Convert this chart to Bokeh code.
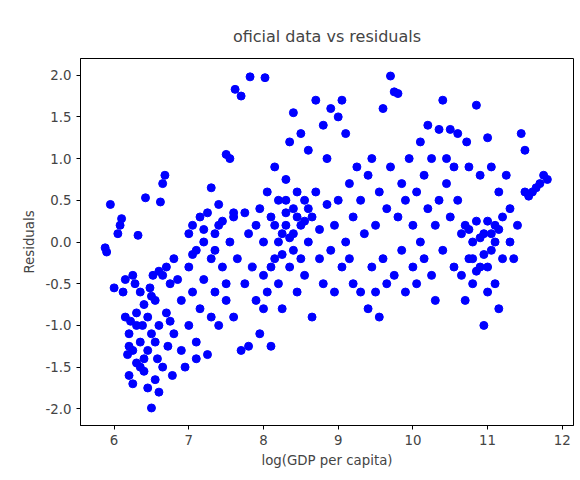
from bokeh.plotting import figure
from bokeh.models import ColumnDataSource, FixedTicker, Range1d, PrintfTickFormatter
from bokeh.embed import file_html
from bokeh.resources import INLINE

# points (log GDP per capita, residual)
gdp_pts = [
    # poorest group
    (5.88,-0.07),(5.9,-0.12),(5.95,0.45),(6.0,-0.55),(6.05,0.1),(6.08,0.2),(6.1,0.28),(6.12,-0.6),
    (6.15,-0.45),(6.15,-0.9),(6.18,-1.35),(6.2,-1.1),(6.2,-1.6),(6.22,-0.95),(6.25,-1.7),(6.25,-1.3),
    (6.28,-0.5),(6.3,-0.85),(6.3,-1.45),(6.32,0.08),(6.35,-1.2),(6.35,-0.6),(6.38,-1.0),(6.4,-0.75),
    (6.4,-1.55),(6.42,0.53),(6.45,-0.9),(6.45,-1.3),(6.48,-0.55),(6.5,-1.99),(6.5,-1.1),(6.52,-0.4),
    (6.55,-1.65),(6.55,-0.7),(6.58,-1.4),(6.6,-0.35),(6.6,-1.0),(6.62,0.48),(6.65,0.7),(6.65,-1.5),
    (6.68,0.8),(6.7,-0.3),(6.7,-0.85),(6.72,-1.25),(6.75,-0.5),(6.78,-1.6),(6.8,-0.2),(6.8,-1.1),
    (6.85,-0.45),(6.9,-1.3),(6.9,-0.7),(6.25,-0.4),(6.35,-1.5),(6.45,-1.75),(6.6,-1.8),(6.75,-0.95),
    (6.3,-1.0),(6.5,-0.65),(6.55,-1.2),(6.65,-0.4),(6.4,-1.4),(6.2,-1.25),
    # 7 - 7.8
    (6.95,-1.5),(7.0,-1.0),(7.0,-0.3),(7.0,0.1),(7.05,-0.6),(7.05,0.2),(7.1,-1.2),(7.1,-0.1),
    (7.15,0.3),(7.15,-0.8),(7.2,0.0),(7.2,-0.45),(7.25,-1.35),(7.25,0.35),(7.3,0.65),(7.3,-0.2),
    (7.35,0.1),(7.35,-0.6),(7.4,0.45),(7.4,-1.0),(7.45,-0.3),(7.45,0.25),(7.5,1.05),(7.5,-0.5),
    (7.55,0.0),(7.55,1.0),(7.6,-0.9),(7.6,0.3),(7.62,1.83),(7.65,-0.2),(7.7,1.75),(7.7,-1.3),
    (7.75,0.35),(7.75,-0.5),(7.8,-1.25),(7.8,0.1),(7.82,1.98),(7.1,-1.4),(7.3,-0.9),(7.5,-0.7),
    (7.2,0.15),(7.4,0.2),(7.6,0.35),(7.35,-0.1),(7.05,-0.15),
    # 7.8 - 9
    (7.85,-0.3),(7.9,0.2),(7.9,-0.7),(7.95,0.4),(7.95,-1.1),(8.0,-0.4),(8.0,0.0),(8.02,1.97),
    (8.05,0.6),(8.05,-0.6),(8.1,0.3),(8.1,-1.25),(8.15,-0.2),(8.15,0.9),(8.2,0.5),(8.2,-0.5),
    (8.25,0.1),(8.25,-0.8),(8.3,0.75),(8.3,0.2),(8.35,-0.3),(8.35,1.2),(8.4,1.55),(8.4,0.4),
    (8.4,-0.1),(8.45,0.6),(8.45,-0.6),(8.5,1.3),(8.5,0.2),(8.55,-0.4),(8.55,0.5),(8.6,1.1),
    (8.6,0.0),(8.65,0.3),(8.65,-0.9),(8.7,1.7),(8.7,0.6),(8.75,-0.2),(8.75,0.15),(8.8,1.4),
    (8.8,-0.5),(8.85,0.45),(8.85,1.0),(8.9,-0.1),(8.9,1.6),(8.95,0.2),(8.95,-0.6),(9.0,1.5),
    (9.0,0.5),(8.3,0.35),(8.4,0.1),(8.5,-0.2),(8.2,0.0),(8.6,0.4),(8.1,-0.3),(8.0,-0.8),
    (8.3,0.5),(8.35,0.05),(8.45,0.3),(8.25,-0.15),(8.55,0.25),(8.15,0.2),
    # 9 - 10
    (9.05,-0.3),(9.05,1.7),(9.1,0.0),(9.1,1.3),(9.15,-0.2),(9.15,0.7),(9.2,0.3),(9.2,-0.5),
    (9.25,0.9),(9.3,-0.6),(9.3,0.5),(9.35,0.1),(9.4,-0.8),(9.4,0.8),(9.45,-0.3),(9.45,1.0),
    (9.5,0.2),(9.5,-0.6),(9.55,0.6),(9.55,-0.9),(9.6,-0.2),(9.6,1.6),(9.65,0.4),(9.65,-0.5),
    (9.7,1.99),(9.7,0.9),(9.75,-0.4),(9.75,1.8),(9.8,0.3),(9.8,1.78),(9.85,-0.1),(9.85,0.7),
    (9.9,-0.6),(9.9,0.5),(9.95,1.0),(10.0,-0.3),(10.0,0.2),
    # 10 - 10.6
    (10.05,0.6),(10.05,-0.5),(10.1,1.2),(10.1,0.0),(10.15,0.8),(10.15,-0.2),(10.2,1.4),(10.2,0.4),
    (10.25,-0.4),(10.25,1.0),(10.3,0.2),(10.3,-0.7),(10.35,1.35),(10.35,0.5),(10.4,-0.1),(10.4,1.7),
    (10.45,0.7),(10.45,1.0),(10.5,0.3),(10.5,1.35),(10.55,-0.3),(10.55,0.9),(10.6,1.3),(10.6,0.5),
    # 10.6 - 11.2
    (10.65,-0.4),(10.65,0.1),(10.7,-0.7),(10.7,0.2),(10.72,1.2),(10.75,-0.2),(10.75,0.9),(10.8,0.0),
    (10.8,-0.5),(10.85,1.64),(10.85,0.25),(10.9,-0.3),(10.9,0.8),(10.95,-1.0),(10.95,0.1),(11.0,-0.6),
    (11.0,0.25),(11.0,1.25),(11.05,-0.1),(11.05,0.9),(11.1,-0.5),(11.1,0.2),(11.15,-0.8),(11.15,0.6),
    (11.2,-0.2),(11.2,0.3),(10.85,-0.35),(10.95,-0.15),(11.05,0.1),(10.75,0.15),
    (10.9,0.05),(11.0,-0.3),(11.1,0.0),(10.8,-0.2),(11.15,0.15),
    # richest
    (11.25,0.8),(11.3,0.0),(11.3,0.4),(11.35,-0.2),(11.4,0.2),(11.45,1.3),(11.5,0.6),(11.5,1.1),
    (11.55,0.55),(11.6,0.6),(11.65,0.65),(11.7,0.7),(11.75,0.8),(11.8,0.75),
]
log_gdp = [p[0] for p in gdp_pts]
residuals = [p[1] for p in gdp_pts]
x_ticks = [6, 7, 8, 9, 10, 11, 12]
y_ticks = [-2.0, -1.5, -1.0, -0.5, 0.0, 0.5, 1.0, 1.5, 2.0]

source = ColumnDataSource(dict(x=log_gdp, y=residuals))

p = figure(width=578, height=470, title="oficial data vs residuals",
           output_backend="svg", toolbar_location=None,
           x_range=Range1d(5.55, 12.15), y_range=Range1d(-2.2, 2.2),
           min_border_left=80, min_border_right=5, min_border_top=58, min_border_bottom=42)
p.scatter(x="x", y="y", source=source, size=8, color="blue")

p.title.align = "center"
p.title.text_font = "DejaVu Sans"
p.title.text_font_size = "12pt"
p.title.text_font_style = "normal"
p.title.standoff = 26
p.grid.visible = False
p.outline_line_color = "black"
p.xaxis.ticker = FixedTicker(ticks=x_ticks)
p.yaxis.ticker = FixedTicker(ticks=y_ticks)
p.yaxis.formatter = PrintfTickFormatter(format="%.1f")
p.xaxis.axis_label = "log(GDP per capita)"
p.yaxis.axis_label = "Residuals"
for ax in (p.xaxis, p.yaxis):
    ax.axis_label_text_font = "DejaVu Sans"
    ax.axis_label_text_font_style = "normal"
    ax.axis_label_text_font_size = "10pt"
    ax.major_label_text_font = "DejaVu Sans"
    ax.major_label_text_font_size = "10pt"
    ax.minor_tick_line_color = None
    ax.major_tick_in = 0
    ax.major_tick_out = 4

open("out.html", "w").write(file_html(p, INLINE))
